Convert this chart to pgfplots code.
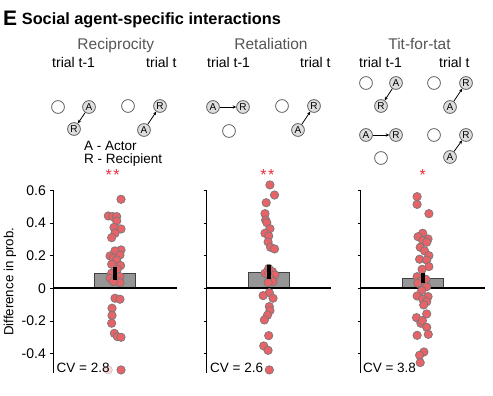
\documentclass[border=0pt]{standalone}
\usepackage{fontspec}
\setmainfont{Liberation Sans}
\usepackage{pgfplots}
\pgfplotsset{compat=1.18}
\usepackage{pgfplotstable}
\usetikzlibrary{arrows.meta}

\definecolor{ptfill}{RGB}{231,99,104}
\definecolor{ptedge}{RGB}{120,120,120}
\definecolor{barfill}{RGB}{150,150,150}
\definecolor{baredge}{RGB}{65,65,65}
\definecolor{titlegray}{RGB}{85,85,85}
\definecolor{starred}{RGB}{235,45,60}
\definecolor{circfill}{RGB}{222,222,222}
\definecolor{circedge}{RGB}{80,80,80}

\pgfplotstableread{
x y
0.097 0.545
-0.108 0.443
-0.038 0.439
0.027 0.439
0.027 0.412
-0.016 0.373
0.097 0.363
0.000 0.337
-0.054 0.310
0.097 0.235
0.000 0.229
-0.080 0.198
0.080 0.204
-0.027 0.184
0.027 0.173
-0.054 0.147
0.090 0.139
0.038 0.116
-0.054 0.092
-0.080 0.061
0.080 0.071
0.000 0.051
0.080 0.035
-0.027 0.041
0.000 -0.061
0.080 -0.067
-0.048 -0.122
-0.048 -0.167
-0.054 -0.214
-0.010 -0.276
0.038 -0.296
0.097 -0.300
0.097 -0.500
}\ptsA

\pgfplotstableread{
x y
0.020 0.633
0.094 0.571
-0.040 0.524
-0.060 0.457
-0.050 0.418
-0.030 0.402
0.020 0.365
-0.060 0.337
0.000 0.320
-0.010 0.284
0.030 0.251
0.094 0.241
0.000 0.122
-0.060 0.092
0.060 0.102
-0.010 0.082
0.100 0.082
0.030 0.061
0.070 0.041
-0.010 0.035
0.010 -0.027
-0.090 -0.045
0.070 -0.061
0.010 -0.112
0.020 -0.137
-0.020 -0.165
-0.070 -0.194
0.000 -0.290
-0.080 -0.353
-0.010 -0.380
0.010 -0.500
}\ptsB

\pgfplotstableread{
x y
-0.090 0.561
-0.090 0.514
0.100 0.457
0.000 0.337
-0.075 0.316
0.086 0.302
0.000 0.292
0.065 0.282
-0.040 0.251
0.030 0.229
0.100 0.200
-0.050 0.178
0.065 0.173
0.100 0.133
-0.010 0.116
-0.090 0.071
-0.030 0.045
0.050 0.055
-0.080 0.031
0.065 0.010
-0.015 -0.014
-0.090 -0.047
0.086 -0.051
0.000 -0.067
0.065 -0.082
0.016 -0.102
0.065 -0.157
-0.100 -0.180
-0.030 -0.214
-0.005 -0.198
0.065 -0.239
-0.090 -0.288
0.090 -0.282
0.020 -0.390
-0.050 -0.410
-0.040 -0.455
}\ptsC

\pgfplotsset{
  panel/.style={
    scale only axis, width=124pt, height=182.9pt,
    xmin=-1, xmax=1, ymin=-0.52, ymax=0.6,
    axis y line*=left, axis x line=none,
    ytick={-0.4,-0.2,0,0.2,0.4,0.6},
    tick align=outside, major tick length=3pt,
    clip=false, clip marker paths=true, anchor=south west,
    /pgf/number format/assume math mode=true,
    yticklabel style={font=\fontsize{14}{14}\selectfont, anchor=east, inner sep=0pt, xshift=-4pt},
    axis line style={line width=0.8pt, black},
    every tick/.style={black, line width=0.8pt},
  },
  dots/.style={only marks, mark=*, mark size=4.2pt,
    mark options={fill=ptfill, draw=ptedge, line width=0.7pt}},
}

\tikzset{
  ec/.style={circle, draw=circedge, fill=white, line width=0.7pt, minimum size=12.8pt, inner sep=0pt},
  lc/.style={circle, draw=circedge, fill=circfill, line width=0.7pt, minimum size=12.8pt, inner sep=0pt, font=\fontsize{10}{10}\selectfont},
  ar/.style={-{Stealth[length=3.5pt,width=3.2pt]}, line width=0.8pt, black},
}

\begin{document}
\begin{tikzpicture}
\path[use as bounding box] (0,0) rectangle (493pt,-396pt);

% Panel 1
\begin{axis}[panel, at={(53pt,-373.2pt)},
  ylabel={Difference in prob.},
  every axis y label/.style={at={(axis description cs:-0.347,0.5)}, rotate=90, anchor=center, font=\fontsize{13.3}{13.3}\selectfont}]
\addplot[ybar, bar width=40.5pt, fill=barfill, draw=baredge, line width=0.8pt] coordinates {(0,0.092)};
\addplot[black, line width=1.8pt] coordinates {(-1,0) (1,0)};
\addplot[dots] table[x=x,y=y] {\ptsA};
\addplot[only marks, mark=*, mark size=4.2pt, mark options={fill=ptfill, draw=ptedge, line width=0.7pt, opacity=0.25}] coordinates {(-0.108,-0.5)};
\addplot[black, line width=4pt] coordinates {(0,0.049) (0,0.129)};
\node[anchor=base, text=starred, inner sep=0, font=\fontsize{16}{16}\selectfont] at (axis cs:-0.04,0.657) {*\kern1.5pt*};
\node[anchor=base west, inner sep=0, font=\fontsize{13.5}{13.5}\selectfont, xshift=3.5pt] at (axis cs:-1,-0.514) {CV = 2.8};
\end{axis}

% Panel 2
\begin{axis}[panel, at={(206.7pt,-373.2pt)}, yticklabels={}]
\addplot[ybar, bar width=40.5pt, fill=barfill, draw=baredge, line width=0.8pt] coordinates {(0,0.100)};
\addplot[black, line width=1.8pt] coordinates {(-1,0) (1,0)};
\addplot[dots] table[x=x,y=y] {\ptsB};
\addplot[black, line width=4pt] coordinates {(0,0.059) (0,0.143)};
\node[anchor=base, text=starred, inner sep=0, font=\fontsize{16}{16}\selectfont] at (axis cs:-0.02,0.657) {*\kern1.5pt*};
\node[anchor=base west, inner sep=0, font=\fontsize{13.5}{13.5}\selectfont, xshift=3.3pt] at (axis cs:-1,-0.514) {CV = 2.6};
\end{axis}

% Panel 3
\begin{axis}[panel, at={(360.7pt,-373.2pt)}, yticklabels={}]
\addplot[ybar, bar width=40.5pt, fill=barfill, draw=baredge, line width=0.8pt] coordinates {(0,0.061)};
\addplot[black, line width=1.8pt] coordinates {(-1,0) (1,0)};
\addplot[dots] table[x=x,y=y] {\ptsC};
\addplot[black, line width=4pt] coordinates {(0,0.030) (0,0.096)};
\node[anchor=base, text=starred, inner sep=0, font=\fontsize{16}{16}\selectfont] at (axis cs:0,0.657) {*};
\node[anchor=base west, inner sep=0, font=\fontsize{13.5}{13.5}\selectfont, xshift=2.2pt] at (axis cs:-1,-0.514) {CV = 3.8};
\end{axis}

\begin{scope}[x=1pt, y=-1pt]
% title
\node[anchor=base west, inner sep=0, font=\bfseries\fontsize{21}{21}\selectfont] at (3,26) {E};
\node[anchor=base west, inner sep=0, font=\bfseries\fontsize{16.3}{16.3}\selectfont] at (21.7,25) {Social agent-specific interactions};
% panel titles
\node[anchor=base, inner sep=0, text=titlegray, font=\fontsize{15.5}{15.5}\selectfont] at (115.8,50) {Reciprocity};
\node[anchor=base, inner sep=0, text=titlegray, font=\fontsize{15.5}{15.5}\selectfont] at (271,50) {Retaliation};
\node[anchor=base, inner sep=0, text=titlegray, font=\fontsize{15.5}{15.5}\selectfont] at (419.5,50) {Tit-for-tat};
% trial labels
\foreach \xx/\tt in {52/trial t-1, 146/trial t, 207/trial t-1, 300/trial t, 359/trial t-1, 439/trial t}
  \node[anchor=base west, inner sep=0, font=\fontsize{14}{14}\selectfont] at (\xx,68) {\tt};
% legend text
\node[anchor=base west, inner sep=0, font=\fontsize{13.5}{13.5}\selectfont] at (84,150.7) {A - Actor};
\node[anchor=base west, inner sep=0, font=\fontsize{13.5}{13.5}\selectfont] at (84,163.3) {R - Recipient};

% Reciprocity
\node[ec] at (58,107) {};
\node[lc] (a1) at (89,107) {A};
\node[lc] (r1) at (74,129) {R};
\draw[ar] (a1) -- (r1);
\node[ec] at (128,106) {};
\node[lc] (r2) at (160,106) {R};
\node[lc] (a2) at (144,130) {A};
\draw[ar] (a2) -- (r2);
% Retaliation
\node[lc] (a3) at (213,107) {A};
\node[lc] (r3) at (243,107) {R};
\node[ec] at (229,131) {};
\draw[ar] (a3) -- (r3);
\node[ec] at (282,106) {};
\node[lc] (r4) at (314,106) {R};
\node[lc] (a4) at (298,130) {A};
\draw[ar] (a4) -- (r4);
% Tit-for-tat row 1
\node[ec] at (366,83) {};
\node[lc] (a5) at (396,83) {A};
\node[lc] (r5) at (381,106) {R};
\draw[ar] (a5) -- (r5);
\node[ec] at (434,83) {};
\node[lc] (r6) at (466,83) {R};
\node[lc] (a6) at (450,107) {A};
\draw[ar] (a6) -- (r6);
% Tit-for-tat row 2
\node[lc] (a7) at (366,135) {A};
\node[lc] (r7) at (396,135) {R};
\node[ec] at (381,158) {};
\draw[ar] (a7) -- (r7);
\node[ec] at (434,135) {};
\node[lc] (r8) at (466,135) {R};
\node[lc] (a8) at (450,157) {A};
\draw[ar] (a8) -- (r8);
\end{scope}
\end{tikzpicture}
\end{document}
